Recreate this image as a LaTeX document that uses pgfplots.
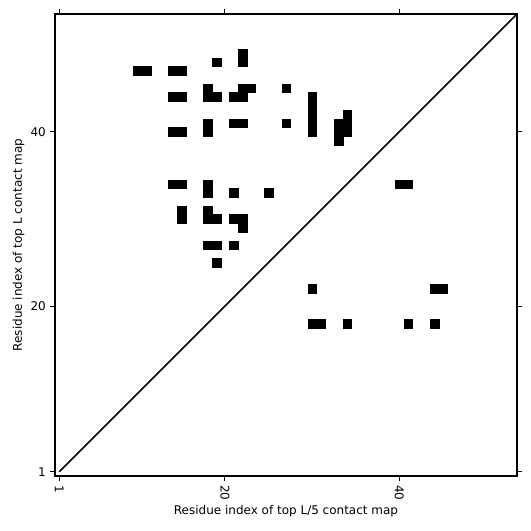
\documentclass[border=0pt]{standalone}
\usepackage{pgfplots}
\pgfplotsset{compat=1.18}
\usepackage{fontspec}
\setmainfont{DejaVu Sans}
\begin{document}
\fontsize{12bp}{14bp}\selectfont
\begin{tikzpicture}
\begin{axis}[
  x=8.72bp, y=8.72bp,
  xmin=0.5, xmax=53.5, ymin=0.5, ymax=53.5,
  xtick={1,20,40}, ytick={1,20,40},
  tick pos=both,
  tick align=outside,
  major tick length=5bp,
  tick style={black, line width=1bp},
  axis line style={line width=1.6bp},
  /pgf/number format/assume math mode=true,
  ticklabel style={font=\fontsize{12bp}{14bp}\selectfont},
  x tick label style={rotate=-90, anchor=west},
  label style={font=\fontsize{12bp}{14bp}\selectfont},
  xlabel={Residue index of top L/5 contact map},
  ylabel={Residue index of top L contact map},
  xlabel style={yshift=3bp},
  ylabel style={yshift=-2bp},
  clip=true,
]
\addplot[black, line width=1.5bp] coordinates {(1,1) (54,54)};
\addplot[only marks, mark=square*, mark size=4.36bp, mark options={fill=black, draw=black, line width=0.1bp}] coordinates {
(10,47) (11,47) (14,47) (15,47) (19,48) (22,48) (22,49)
(14,44) (15,44) (18,45) (18,44) (19,44) (22,45) (23,45) (21,44) (22,44) (27,45)
(30,40) (30,41) (30,42) (30,43) (30,44)
(14,40) (15,40) (18,40) (18,41) (21,41) (22,41) (27,41)
(33,39) (33,40) (33,41) (34,40) (34,41) (34,42)
(14,34) (15,34) (18,33) (18,34) (21,33) (25,33) (40,34) (41,34)
(15,30) (15,31) (18,31) (18,30) (19,30) (21,30) (22,30) (22,29)
(18,27) (19,27) (21,27) (19,25)
(30,22) (44,22) (45,22) (30,18) (31,18) (34,18) (41,18) (44,18)
};
\end{axis}
\pgfresetboundingbox
\path ([shift={(-55bp,-55bp)}]current axis.south west) rectangle ([shift={(14bp,14bp)}]current axis.north east);
\end{tikzpicture}
\end{document}
